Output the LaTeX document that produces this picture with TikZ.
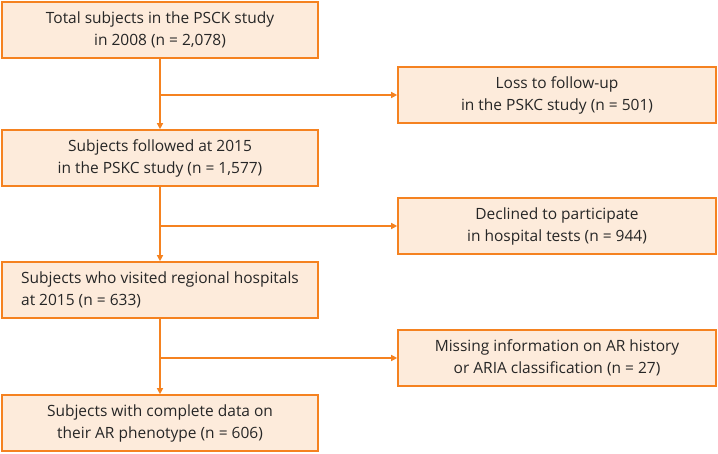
\documentclass[tikz,border=0pt]{standalone}
\usepackage{fontspec}
\setmainfont{Open Sans}
\usetikzlibrary{arrows.meta}
\definecolor{oline}{HTML}{F58220}
\definecolor{ofill}{HTML}{FDEBDB}
\begin{document}
\begin{tikzpicture}[x=1pt,y=-1pt,
  box/.style={draw=oline,fill=ofill,line width=1.6pt,minimum width=316pt,minimum height=56pt,align=center,font=\fontsize{15.5}{22}\selectfont,text=black!85,inner sep=0pt},
  conn/.style={draw=oline,line width=1.3pt,-{Triangle[length=6pt,width=6pt]}}]
\useasboundingbox (0,0) rectangle (718,454);
\node[box] (a) at (160,30) {Total subjects in the PSCK study\\in 2008 (n = 2,078)};
\node[box] (b) at (160,158) {Subjects followed at 2015\\in the PSKC study (n = 1,577)};
\node[box,align=left] (c) at (160,290) {Subjects who visited regional hospitals\\at 2015 (n = 633)};
\node[box] (d) at (160,423) {Subjects with complete data on\\their AR phenotype (n = 606)};
\node[box,minimum width=318pt] (r1) at (557,95) {Loss to follow-up\\in the PSKC study (n = 501)};
\node[box,minimum width=318pt] (r2) at (557,226) {Declined to participate\\in hospital tests (n = 944)};
\node[box,minimum width=318pt] (r3) at (557,358) {Missing information on AR history\\or ARIA classification (n = 27)};
\coordinate (j1) at (160,95);
\coordinate (j2) at (160,226);
\coordinate (j3) at (160,358);
\draw[conn] (a.south) -- (b.north);
\draw[conn] (b.south) -- (c.north);
\draw[conn] (c.south) -- (d.north);
\draw[conn] (j1) -- (r1.west);
\draw[conn] (j2) -- (r2.west);
\draw[conn] (j3) -- (r3.west);
\end{tikzpicture}
\end{document}
